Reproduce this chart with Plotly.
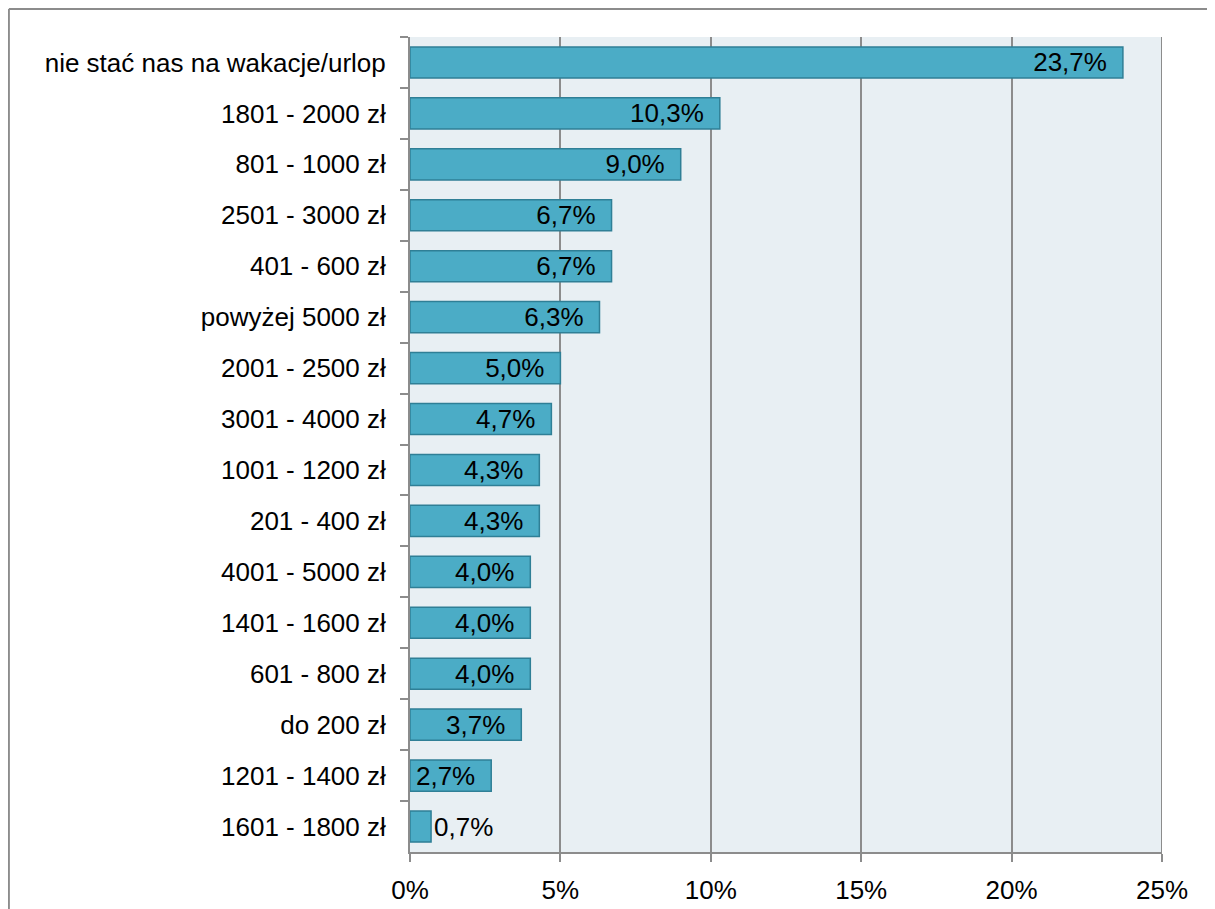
import plotly.graph_objects as go

categories = [
    "nie stać nas na wakacje/urlop", "1801 - 2000 zł", "801 - 1000 zł",
    "2501 - 3000 zł", "401 - 600 zł", "powyżej 5000 zł", "2001 - 2500 zł",
    "3001 - 4000 zł", "1001 - 1200 zł", "201 - 400 zł", "4001 - 5000 zł",
    "1401 - 1600 zł", "601 - 800 zł", "do 200 zł", "1201 - 1400 zł",
    "1601 - 1800 zł",
]
values = [23.7, 10.3, 9.0, 6.7, 6.7, 6.3, 5.0, 4.7, 4.3, 4.3, 4.0, 4.0, 4.0, 3.7, 2.7, 0.7]
value_labels = ["23,7%", "10,3%", "9,0%", "6,7%", "6,7%", "6,3%", "5,0%", "4,7%",
                "4,3%", "4,3%", "4,0%", "4,0%", "4,0%", "3,7%", "2,7%", "0,7%"]
x_ticks = [0, 5, 10, 15, 20, 25]
x_tick_text = ["0%", "5%", "10%", "15%", "20%", "25%"]

FONT = "Liberation Sans, Arial, sans-serif"
GRID = "#8c8c8c"

fig = go.Figure(
    go.Bar(
        x=values,
        y=categories,
        orientation="h",
        text=[t + "\u2002" for t in value_labels],
        textposition="auto",
        insidetextanchor="end",
        constraintext="none",
        textfont=dict(family=FONT, size=26, color="#000000"),
        insidetextfont=dict(family=FONT, size=26, color="#000000"),
        outsidetextfont=dict(family=FONT, size=26, color="#000000"),
        marker=dict(color="#4bacc6", line=dict(color="#2f7f96", width=1.5)),
        cliponaxis=False,
    )
)

fig.update_layout(
    width=1215,
    height=909,
    margin=dict(l=402, r=61, t=29, b=63),
    paper_bgcolor="#ffffff",
    plot_bgcolor="#e8eff3",
    bargap=0.39,
    showlegend=False,
    font=dict(family=FONT, size=26, color="#000000"),
    xaxis=dict(
        range=[0, 25],
        tickvals=x_ticks,
        ticktext=x_tick_text,
        showgrid=True,
        gridcolor=GRID,
        gridwidth=2,
        zeroline=False,
        showline=True,
        linecolor=GRID,
        linewidth=2,
        ticks="outside",
        ticklen=8,
        tickwidth=2,
        tickcolor=GRID,
        tickfont=dict(family=FONT, size=26, color="#000000"),
        ticklabelstandoff=6,
        fixedrange=True,
    ),
    yaxis=dict(
        autorange="reversed",
        showgrid=False,
        zeroline=False,
        showline=True,
        linecolor=GRID,
        linewidth=2,
        ticks="outside",
        tickson="boundaries",
        ticklen=8,
        tickwidth=2,
        tickcolor=GRID,
        tickfont=dict(family=FONT, size=26, color="#000000"),
        ticklabelstandoff=17,
        fixedrange=True,
    ),
    shapes=[
        # right border of plot area (25% gridline edge)
        dict(type="line", xref="x", yref="paper", x0=25, x1=25, y0=0, y1=1,
             line=dict(color=GRID, width=2)),
        # outer chart frame (top and left edges)
        dict(type="line", xref="paper", yref="paper", x0=-0.5334, x1=1.2,
             y0=1.0343, y1=1.0343, line=dict(color=GRID, width=2)),
        dict(type="line", xref="paper", yref="paper", x0=-0.5334, x1=-0.5334,
             y0=-0.2, y1=1.0343, line=dict(color=GRID, width=2)),
    ],
)

fig.write_html("out.html")
